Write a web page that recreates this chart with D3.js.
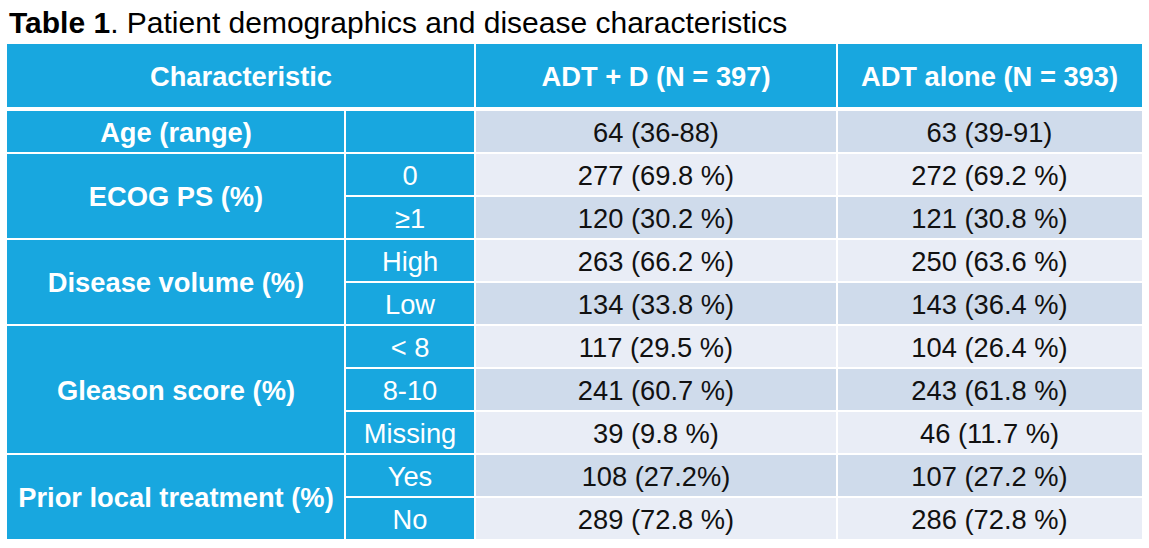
<!DOCTYPE html>
<html>
<head>
<meta charset="utf-8">
<script src="https://cdn.jsdelivr.net/npm/d3@7"></script>
<style>
  html, body { margin: 0; padding: 0; background: #fff; }
  svg { display: block; }
</style>
</head>
<body>
<svg id="chart" width="1149" height="548"></svg>
<script>
// ---- data ----
const titleBold = "Table 1";
const titleRest = ". Patient demographics and disease characteristics";
const headers = ["Characteristic", "ADT + D (N = 397)", "ADT alone (N = 393)"];
const groups = ["Age (range)", "ECOG PS (%)", "Disease volume (%)", "Gleason score (%)", "Prior local treatment (%)"];
const groupSpans = [1, 2, 2, 3, 2];
const subLabels = ["", "0", "≥1", "High", "Low", "< 8", "8-10", "Missing", "Yes", "No"];
const adtD = ["64 (36-88)", "277 (69.8 %)", "120 (30.2 %)", "263 (66.2 %)", "134 (33.8 %)",
              "117 (29.5 %)", "241 (60.7 %)", "39 (9.8 %)", "108 (27.2%)", "289 (72.8 %)"];
const adtAlone = ["63 (39-91)", "272 (69.2 %)", "121 (30.8 %)", "250 (63.6 %)", "143 (36.4 %)",
                  "104 (26.4 %)", "243 (61.8 %)", "46 (11.7 %)", "107 (27.2 %)", "286 (72.8 %)"];

// ---- layout ----
const BLUE = "#18A7DF", DARK = "#CFDBEB", LIGHT = "#E9EDF6";
const FONT = "'Liberation Sans', Arial, sans-serif";
const FS = 27.3;
const colEdges = [7, 345, 475, 837, 1142];
const headerTop = 44, headerBottom = 108, rowsTop = 110, rowsBottom = 540;
const g = 1; // half gap

const svg = d3.select("#chart");

const y = d3.scaleBand().domain(d3.range(subLabels.length)).range([rowsTop, rowsBottom]).padding(0);

// title
const title = svg.append("text").attr("x", 9).attr("y", 33)
  .attr("font-family", FONT).attr("font-size", 30).attr("fill", "#000");
title.append("tspan").attr("font-weight", "bold").text(titleBold);
title.append("tspan").text(titleRest);

// header cells
const headerCells = [
  { x0: colEdges[0], x1: colEdges[2], t: headers[0] },
  { x0: colEdges[2], x1: colEdges[3], t: headers[1] },
  { x0: colEdges[3], x1: colEdges[4], t: headers[2] }
];
svg.selectAll("rect.h").data(headerCells).join("rect").attr("class", "h")
  .attr("x", (d, i) => d.x0 + (i ? g : 0)).attr("y", headerTop)
  .attr("width", (d, i) => d.x1 - d.x0 - (i ? g : 0) - (i < 2 ? g : 0))
  .attr("height", headerBottom - headerTop - 1)
  .attr("fill", BLUE);
svg.selectAll("text.h").data(headerCells).join("text").attr("class", "h")
  .attr("x", d => (d.x0 + d.x1) / 2).attr("y", (headerTop + headerBottom) / 2)
  .attr("dy", "0.36em").attr("text-anchor", "middle")
  .attr("font-family", FONT).attr("font-size", FS).attr("font-weight", "bold").attr("fill", "#fff")
  .text(d => d.t);

// group cells
let start = 0;
const groupCells = groups.map((name, i) => {
  const c = { name, s: start, e: start + groupSpans[i] };
  start += groupSpans[i];
  return c;
});
svg.selectAll("rect.grp").data(groupCells).join("rect").attr("class", "grp")
  .attr("x", colEdges[0]).attr("y", d => y(d.s) + g)
  .attr("width", colEdges[1] - colEdges[0] - g)
  .attr("height", d => y(d.e - 1) + y.bandwidth() - y(d.s) - 2 * g)
  .attr("fill", BLUE);
svg.selectAll("text.grp").data(groupCells).join("text").attr("class", "grp")
  .attr("x", (colEdges[0] + colEdges[1]) / 2)
  .attr("y", d => (y(d.s) + y(d.e - 1) + y.bandwidth()) / 2)
  .attr("dy", "0.38em").attr("text-anchor", "middle")
  .attr("font-family", FONT).attr("font-size", FS).attr("font-weight", "bold").attr("fill", "#fff")
  .text(d => d.name);

// sub label cells
const rows = subLabels.map((s, i) => ({ i, s, a: adtD[i], b: adtAlone[i] }));
svg.selectAll("rect.sub").data(rows).join("rect").attr("class", "sub")
  .attr("x", colEdges[1] + g).attr("y", d => y(d.i) + g)
  .attr("width", colEdges[2] - colEdges[1] - 2 * g).attr("height", y.bandwidth() - 2 * g)
  .attr("fill", BLUE);
svg.selectAll("text.sub").data(rows).join("text").attr("class", "sub")
  .attr("x", (colEdges[1] + colEdges[2]) / 2).attr("y", d => y(d.i) + y.bandwidth() / 2)
  .attr("dy", "0.38em").attr("text-anchor", "middle")
  .attr("font-family", FONT).attr("font-size", FS).attr("fill", "#fff")
  .text(d => d.s);

// data cells
[["a", 2], ["b", 3]].forEach(([key, c]) => {
  svg.selectAll("rect.d" + key).data(rows).join("rect").attr("class", "d" + key)
    .attr("x", colEdges[c] + g).attr("y", d => y(d.i) + g)
    .attr("width", colEdges[c + 1] - colEdges[c] - (c === 3 ? g : 2 * g))
    .attr("height", y.bandwidth() - 2 * g)
    .attr("fill", d => d.i % 2 === 0 ? DARK : LIGHT);
  svg.selectAll("text.d" + key).data(rows).join("text").attr("class", "d" + key)
    .attr("x", (colEdges[c] + colEdges[c + 1]) / 2).attr("y", d => y(d.i) + y.bandwidth() / 2)
    .attr("dy", "0.38em").attr("text-anchor", "middle")
    .attr("font-family", FONT).attr("font-size", FS).attr("fill", "#111")
    .text(d => d[key]);
});
</script>
</body>
</html>
